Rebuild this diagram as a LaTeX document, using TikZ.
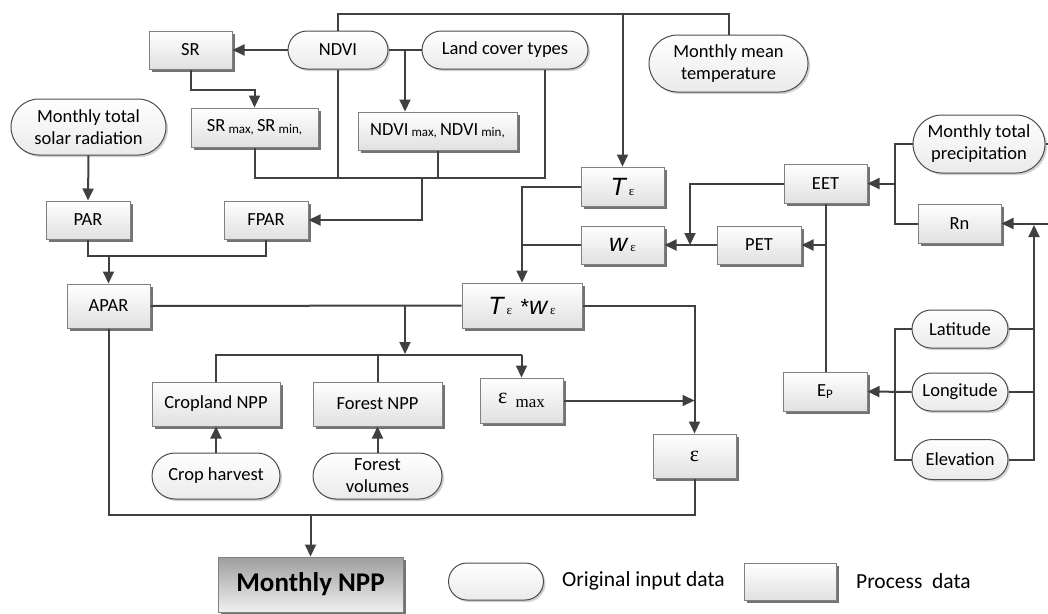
\documentclass[tikz,border=0pt]{standalone}
\usepackage{fontspec}
\setmainfont{Carlito}
\newfontfamily\arialf{Liberation Sans}
\newfontfamily\timesf{Liberation Serif}
\usetikzlibrary{arrows.meta,shapes.misc,shadows,calc}
\newcommand{\sbx}[1]{{\fontsize{13}{13}\selectfont\raisebox{-1.5pt}{#1}}}
\newcommand{\Teps}{{\arialf\itshape\fontsize{25}{25}\selectfont T}\,{\timesf\fontsize{13}{13}\selectfont ε}}
\newcommand{\Weps}{{\arialf\itshape\fontsize{25}{25}\selectfont w}\,{\timesf\fontsize{13}{13}\selectfont ε}}
\begin{document}
\begin{tikzpicture}[x=1pt,y=-1pt,
 base/.style={font=\fontsize{18.5}{22}\selectfont, inner sep=0pt, align=center},
 proc/.style={base, rectangle, draw=black!50, line width=1pt, top color=white, bottom color=black!12,
   drop shadow={shadow xshift=3pt,shadow yshift=-3pt,fill=black!55,opacity=1}},
 inp/.style={base, rounded rectangle, draw=black!70, line width=1pt, top color=white, bottom color=black!8,
   drop shadow={shadow xshift=2pt,shadow yshift=-2pt,fill=black!18,opacity=1}},
 sz/.style 2 args={minimum width=#1pt, minimum height=#2pt},
 conn/.style={draw=black!75, line width=2pt},
 arr/.style={conn, -{Triangle[length=12pt,width=11pt]}},
 lgtext/.style={font=\fontsize{21.5}{24}\selectfont, anchor=west, inner sep=0pt}
 ]
\useasboundingbox (0,0) rectangle (1048,613);

% nodes
\node[proc, sz={83}{38}] (SR) at (190.5,50) {SR};
\node[inp, sz={100}{38}] (NDVI) at (338,50) {NDVI};
\node[inp, sz={166}{38}] (LCT) at (505,50) {Land cover types};
\node[inp, sz={159}{57}] (MMT) at (728.5,63.5) {Monthly mean\\temperature};
\node[proc, sz={127}{39}] (SRm) at (254.5,127.5) {SR\,\sbx{max,}\,SR\,\sbx{min,}};
\node[proc, sz={159}{38}] (NDVIm) at (437.5,131) {NDVI\,\sbx{max,}\,NDVI\,\sbx{min,}};
\node[inp, sz={155}{56}] (MTSR) at (88.5,127) {Monthly total\\solar radiation};
\node[proc, sz={83}{39}] (Te) at (622.5,186.5) {\Teps};
\node[proc, sz={83}{38}] (We) at (622.5,245) {\Weps};
\node[proc, sz={83}{39}] (EET) at (825.5,183.5) {EET};
\node[proc, sz={84}{38}] (PET) at (759,245) {PET};
\node[inp, sz={132}{58}] (MTP) at (979,144) {Monthly total\\precipitation};
\node[proc, sz={83}{39}] (Rn) at (959.5,223.5) {Rn};
\node[proc, sz={84}{39}] (Ep) at (825,391.5) {E\sbx{P}};
\node[inp, sz={96}{38}] (Lat) at (960,329) {Latitude};
\node[inp, sz={96}{38}] (Lon) at (960,392) {Longitude};
\node[inp, sz={96}{40}] (Ele) at (960,459.5) {Elevation};
\node[proc, sz={84}{38}] (PAR) at (88,220) {PAR};
\node[proc, sz={84}{38}] (FPAR) at (266,220) {FPAR};
\node[proc, sz={83}{44}] (APAR) at (108.5,306) {APAR};
\node[proc, sz={120}{45}] (TW) at (522,305.5) {\Teps\ \ {\arialf\fontsize{22}{22}\selectfont *}\Weps};
\node[proc, sz={83}{45}] (emax) at (521.5,400.5) {{\timesf\fontsize{22}{22}\selectfont ε}\ \ {\timesf\fontsize{17}{17}\selectfont\raisebox{-4pt}{max}}};
\node[proc, sz={83}{44}] (eps) at (694.5,456) {{\timesf\fontsize{22}{22}\selectfont ε}};
\node[proc, sz={128}{44}] (Crop) at (216,404) {Cropland NPP};
\node[proc, sz={129}{44}] (Forest) at (377.5,404) {Forest NPP};
\node[inp, sz={128}{46}] (CH) at (216,476) {Crop harvest};
\node[inp, sz={129}{46}] (FV) at (377.5,476) {Forest\\volumes};
\node[proc, sz={185}{55}, top color=black!38, bottom color=black!6, font=\fontsize{27}{30}\selectfont\bfseries] (NPP) at (310.5,584.5) {Monthly NPP};
% legend
\node[inp, sz={95}{37}] (lgR) at (496,581.5) {};
\node[lgtext] (lgRt) at (562,581) {Original input data};
\node[proc, sz={92}{37}] (lgP) at (790,581.5) {};
\node[lgtext] (lgPt) at (856,581) {Process\ \ data};

% connectors - top part
\draw[arr] (NDVI.west) -- (SR.east);
\draw[arr] (SR.south) -- ++(0,20) -| (SRm.north);
\draw[conn] (NDVI.east) -- (LCT.west);
\coordinate (b1) at ($(NDVI.east)!0.5!(LCT.west)$);
\draw[arr] (b1) -- (b1 |- NDVIm.north);
\draw[conn] (MMT.north) |- (338,14) -- (NDVI.north);
\draw[arr] (622.5,14) -- (Te.north);
\draw[conn] (NDVI.south) -- (338,178);
\coordinate (lctb) at ($(LCT.south)+(40,0)$);
\draw[conn] (SRm.south) |- (lctb |- 0,178) -- (lctb);
\draw[conn] (NDVIm.south) -- (NDVIm.south |- 0,178);
\coordinate (fb) at (422,178);
\draw[arr] (fb) |- (FPAR.east);
% left column
\draw[arr] (MTSR.south) -- (PAR.north);
\draw[conn] (PAR.south) |- (FPAR.south |- 0,256) -- (FPAR.south);
\draw[arr] (APAR.north |- 0,256) -- (APAR.north);
\draw[conn] (APAR.east) -- (TW.west);
\coordinate (b2) at (405,306);
\draw[arr] (b2) -- (405,354);
\draw[conn] (Crop.north) |- (emax.north |- 0,355);
\draw[arr] (emax.north |- 0,355) -- (emax.north);
\draw[conn] (Forest.north) -- (Forest.north |- 0,355);
\draw[arr] (TW.east) -| (eps.north);
\draw[arr] (emax.east) -- (emax.east -| eps.north);
\draw[arr] (CH.north) -- (Crop.south);
\draw[arr] (FV.north) -- (Forest.south);
\draw[conn] (APAR.south) |- (eps.south |- 0,515) -- (eps.south);
\draw[arr] (NPP.north |- 0,515) -- (NPP.north);
% temperature / water
\draw[arr] (Te.west) -| (TW.north);
\draw[conn] (We.west) -- (TW.north |- We.west);
\draw[arr] (PET.west) -- (We.east);
\draw[arr] (EET.west) -| (690,245);
\draw[conn] (EET.south) -- (EET.south |- Ep.north);
\draw[arr] (EET.south |- PET.east) -- (PET.east);
% right side
\draw[conn] (MTP.west) -| (895,223.5) -- (Rn.west);
\draw[arr] (895,183.5) -- (EET.east);
\draw[conn] (MTP.east) -- (1048,144);
\draw[arr] (1048,223.5) -- (Rn.east);
\draw[arr] (Ele.east) -| (1034,225);
\draw[conn] (Lat.east) -- (1034,329);
\draw[conn] (Lon.east) -- (1034,392);
\draw[conn] (Lat.west) -| (895,459.5) -- (Ele.west);
\draw[arr] (Lon.west) -- (Ep.east);
\end{tikzpicture}
\end{document}
